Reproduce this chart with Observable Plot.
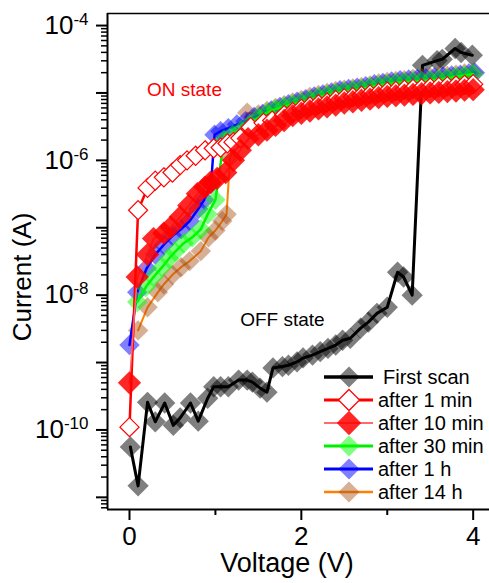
<!DOCTYPE html>
<html><head><meta charset="utf-8">
<script src="https://cdn.jsdelivr.net/npm/d3@7"></script>
<script src="https://cdn.jsdelivr.net/npm/@observablehq/plot@0.6"></script>
<style>body{margin:0;background:#fff;} svg{display:block;}</style>
</head><body><div id="chart"></div>
<script>
// [Voltage (V), Current (A)]
const firstScan = [[0.01,5.6e-11],[0.10,1.48e-11],[0.21,2.57e-10],[0.30,1.32e-10],[0.41,2.51e-10],[0.51,1.17e-10],[0.59,1.51e-10],[0.71,2.51e-10],[0.80,1.35e-10],[0.91,2.95e-10],[0.98,4.37e-10],[1.06,4.37e-10],[1.15,4.37e-10],[1.27,5.5e-10],[1.37,5.5e-10],[1.43,5.13e-10],[1.52,4.17e-10],[1.60,3.63e-10],[1.67,8.32e-10],[1.78,8.71e-10],[1.85,9.12e-10],[1.95,1.02e-9],[2.02,1.17e-9],[2.13,1.29e-9],[2.22,1.45e-9],[2.31,1.62e-9],[2.40,1.82e-9],[2.48,2.14e-9],[2.57,2.29e-9],[2.69,3.24e-9],[2.78,3.98e-9],[2.88,5.37e-9],[3.00,6.61e-9],[3.12,2.19e-8],[3.19,1.86e-8],[3.29,1.0e-8],[3.41,2.57e-5],[3.58,3.02e-5],[3.64,3.16e-5],[3.79,4.57e-5],[3.86,3.98e-5],[3.99,3.63e-5]];
const after1min = [[0.00,1.1e-10],[0.10,1.82e-7],[0.21,3.9e-7],[0.30,5.0e-7],[0.40,5.6e-7],[0.50,6.6e-7],[0.59,8.5e-7],[0.67,1.0e-6],[0.77,1.17e-6],[0.88,1.41e-6],[0.98,1.51e-6],[1.06,1.55e-6],[1.14,1.78e-6],[1.21,1.86e-6],[1.29,2.14e-6],[1.41,3.1e-6],[1.56,3.6e-6],[1.66,3.9e-6],[1.8,4.7e-6],[1.9,5.2e-6],[2.0,5.8e-6],[2.1,6.3e-6],[2.2,6.8e-6],[2.3,7.2e-6],[2.4,7.8e-6],[2.5,8.3e-6],[2.6,8.7e-6],[2.7,9.1e-6],[2.8,9.5e-6],[2.9,1.0e-5],[3.0,1.05e-5],[3.1,1.07e-5],[3.2,1.12e-5],[3.3,1.15e-5],[3.4,1.17e-5],[3.5,1.2e-5],[3.6,1.23e-5],[3.7,1.26e-5],[3.8,1.29e-5],[3.9,1.32e-5],[4.0,1.35e-5]];
const after10min = [[0.00,5.0e-10],[0.09,1.86e-8],[0.21,4.0e-8],[0.28,6.9e-8],[0.40,8.3e-8],[0.48,1.02e-7],[0.59,1.45e-7],[0.69,2.14e-7],[0.79,3.2e-7],[0.88,4.0e-7],[0.94,4.7e-7],[1.02,5.4e-7],[1.12,6.6e-7],[1.21,1.0e-6],[1.29,1.41e-6],[1.38,2.1e-6],[1.5,2.4e-6],[1.6,2.8e-6],[1.7,3.3e-6],[1.8,3.9e-6],[1.9,4.6e-6],[2.0,5.0e-6],[2.1,5.4e-6],[2.2,5.8e-6],[2.3,6.2e-6],[2.4,6.6e-6],[2.5,7.1e-6],[2.6,7.4e-6],[2.7,7.8e-6],[2.8,8.1e-6],[2.9,8.5e-6],[3.0,8.9e-6],[3.1,9.1e-6],[3.2,9.3e-6],[3.3,9.5e-6],[3.4,9.8e-6],[3.5,1.0e-5],[3.6,1.02e-5],[3.7,1.05e-5],[3.8,1.07e-5],[3.9,1.1e-5],[4.0,1.12e-5]];
const after30min = [[0.09,7.9e-9],[0.19,1.32e-8],[0.28,1.86e-8],[0.38,2.6e-8],[0.46,3.5e-8],[0.53,4.4e-8],[0.63,5.9e-8],[0.73,7.2e-8],[0.83,9.5e-8],[0.91,1.58e-7],[1.00,2.6e-7],[1.10,2.0e-6],[1.20,2.4e-6],[1.30,2.8e-6],[1.40,3.4e-6],[1.50,4.3e-6],[1.60,5.1e-6],[1.70,5.8e-6],[1.80,6.3e-6],[1.90,6.8e-6],[2.00,7.2e-6],[2.10,7.9e-6],[2.20,8.7e-6],[2.30,9.3e-6],[2.40,1.0e-5],[2.50,1.05e-5],[2.60,1.1e-5],[2.70,1.15e-5],[2.80,1.23e-5],[2.90,1.29e-5],[3.00,1.35e-5],[3.10,1.41e-5],[3.20,1.45e-5],[3.30,1.48e-5],[3.40,1.51e-5],[3.50,1.55e-5],[3.60,1.58e-5],[3.70,1.66e-5],[3.80,1.74e-5],[3.90,1.82e-5],[4.00,1.91e-5]];
const after1h = [[0.00,1.82e-9],[0.09,1.1e-8],[0.20,2.5e-8],[0.30,4.0e-8],[0.40,5.6e-8],[0.50,7.6e-8],[0.60,9.5e-8],[0.70,1.26e-7],[0.80,1.9e-7],[0.87,2.6e-7],[0.95,4.5e-7],[0.99,2.4e-6],[1.06,2.7e-6],[1.15,3.0e-6],[1.25,3.4e-6],[1.35,3.8e-6],[1.45,4.4e-6],[1.55,4.9e-6],[1.65,5.5e-6],[1.75,6.2e-6],[1.85,6.8e-6],[1.95,7.4e-6],[2.05,8.1e-6],[2.15,8.9e-6],[2.25,9.5e-6],[2.35,1.02e-5],[2.45,1.1e-5],[2.55,1.15e-5],[2.65,1.2e-5],[2.75,1.26e-5],[2.85,1.35e-5],[2.95,1.41e-5],[3.05,1.48e-5],[3.15,1.55e-5],[3.25,1.58e-5],[3.35,1.62e-5],[3.45,1.66e-5],[3.55,1.7e-5],[3.65,1.74e-5],[3.75,1.82e-5],[3.85,1.86e-5],[3.95,1.95e-5],[4.02,2.0e-5]];
const after14h = [[0.10,3.0e-9],[0.21,6.6e-9],[0.33,1.1e-8],[0.40,1.45e-8],[0.50,2.0e-8],[0.60,2.6e-8],[0.70,3.2e-8],[0.83,4.5e-8],[0.92,7.2e-8],[1.00,9.1e-8],[1.08,1.26e-7],[1.13,1.58e-7],[1.17,1.1e-6],[1.27,2.2e-6],[1.37,5.1e-6],[1.50,4.8e-6],[1.60,5.4e-6],[1.70,6.0e-6],[1.80,6.6e-6],[1.90,7.2e-6],[2.00,7.9e-6],[2.10,8.7e-6],[2.20,9.3e-6],[2.30,1.0e-5],[2.40,1.07e-5],[2.50,1.12e-5],[2.60,1.17e-5],[2.70,1.23e-5],[2.80,1.29e-5],[2.90,1.38e-5],[3.00,1.45e-5],[3.10,1.51e-5],[3.20,1.55e-5],[3.30,1.62e-5],[3.40,1.66e-5],[3.50,1.7e-5],[3.60,1.74e-5],[3.70,1.78e-5],[3.80,1.86e-5],[3.90,1.95e-5],[4.00,2.0e-5]];

const seriesNames = ["First scan","after 1 min","after 10 min","after 30 min","after 1 h","after 14 h"];
const xDomain = [-0.256, 4.19];
const yDomain = [6.6e-12, 1.51e-4];
const xMajorTicks = [0, 2, 4];
const xMinorTicks = [1, 3];
const yMajorTicks = [1e-11,1e-10,1e-9,1e-8,1e-7,1e-6,1e-5,1e-4];
const yLabeledTicks = [1e-10,1e-8,1e-6,1e-4];
const yMinorTicks = [7e-12,8e-12,9e-12];
[1e-11,1e-10,1e-9,1e-8,1e-7,1e-6,1e-5].forEach(b => [2,3,4,5,6,7,8,9].forEach(k => yMinorTicks.push(+(k*b).toPrecision(3))));
const annotations = [
  {label:"ON state", v:0.64, i:1.12e-5, color:"#ff0000"},
  {label:"OFF state", v:1.78, i:4.3e-9, color:"#000000"}
];
const xTitle = "Voltage (V)";
const yTitle = "Current (A)";

// styles (kept apart from data)
const styles = {
  "First scan":   {data:firstScan,  line:"#000000", lw:3,   fill:"#000000", fo:0.5,  r:9.6,  stroke:"none", sw:0},
  "after 1 min":  {data:after1min,  line:"#ff0000", lw:2.5, fill:"#ffffff", fo:1,    r:8.6,  stroke:"#ff0000", sw:1.2},
  "after 10 min": {data:after10min, line:"#ff6a6a", lw:1.5, fill:"#ff0000", fo:0.85, r:10.5, stroke:"none", sw:0},
  "after 30 min": {data:after30min, line:"#00ee00", lw:2.5, fill:"#00ff00", fo:0.5,  r:9.2,  stroke:"none", sw:0},
  "after 1 h":    {data:after1h,    line:"#0000ff", lw:2.5, fill:"#0000ff", fo:0.5,  r:9.2,  stroke:"none", sw:0},
  "after 14 h":   {data:after14h,   line:"#ff8000", lw:2,   fill:"#a64d14", fo:0.45, r:9.2,  stroke:"none", sw:0}
};
const drawOrder = ["First scan","after 14 h","after 1 h","after 30 min","after 1 min","after 10 min"];

const font = "'Liberation Sans', Arial, sans-serif";
const marks = [];
for (const name of drawOrder) {
  const s = styles[name];
  marks.push(Plot.line(s.data, {x: d => d[0], y: d => d[1], stroke: s.line, strokeWidth: s.lw}));
  marks.push(Plot.dot(s.data, {x: d => d[0], y: d => d[1], symbol: "diamond2", r: s.r, fill: s.fill, fillOpacity: s.fo, stroke: s.stroke, strokeWidth: s.sw}));
}
const labeledSet = new Set(yLabeledTicks);
marks.push(
  Plot.text(annotations, {x: "v", y: "i", text: "label", fill: d => d.color, fontSize: 19, fontFamily: font}),
  Plot.ruleX([xDomain[0]], {stroke: "#000", strokeWidth: 2}),
  Plot.ruleY([yDomain[0]], {stroke: "#000", strokeWidth: 2}),
  Plot.ruleY([yDomain[1]], {stroke: "#000", strokeWidth: 1.5}),
  Plot.axisY({ticks: yMajorTicks, tickSize: 11, tickPadding: 8, strokeWidth: 2, fontSize: 26, fontFamily: font, label: null,
    tickFormat: d => labeledSet.has(d) ? "10^" + Math.round(Math.log10(d)) : ""}),
  Plot.axisY({ticks: yMinorTicks, tickSize: 6, strokeWidth: 1.5, tickFormat: () => "", label: null}),
  Plot.axisX({ticks: xMajorTicks, tickSize: 11, tickPadding: 6, strokeWidth: 2, fontSize: 26, fontFamily: font, label: null, tickFormat: d => String(d)}),
  Plot.axisX({ticks: xMinorTicks, tickSize: 6, strokeWidth: 2, tickFormat: () => "", label: null})
);

const chart = Plot.plot({
  width: 489, height: 583,
  marginLeft: 107, marginRight: 0, marginTop: 13, marginBottom: 74,
  style: {fontFamily: font, color: "#000", background: "#fff", overflow: "visible"},
  x: {domain: xDomain, axis: null},
  y: {type: "log", domain: yDomain, axis: null},
  marks
});
document.getElementById("chart").appendChild(chart);

const svg = d3.select(chart);
// superscript exponents on y tick labels
svg.selectAll('g[aria-label="y-axis tick label"] text').each(function() {
  const m = this.textContent.match(/^10\^(-?\d+)$/);
  if (m) {
    const t = d3.select(this);
    t.text("10");
    t.append("tspan").attr("dy", -9).attr("font-size", 17).text(m[1]);
  }
});

// axis titles
svg.append("text").attr("x", 287).attr("y", 572).attr("text-anchor", "middle")
  .attr("font-family", font).attr("font-size", 27).attr("fill", "#000").text(xTitle);
svg.append("text").attr("transform", "translate(31,277) rotate(-90)").attr("text-anchor", "middle")
  .attr("font-family", font).attr("font-size", 26).attr("fill", "#000").text(yTitle);

// legend
const legendX = 324, legendTop = 377, rowGap = 23;
const sym = d3.symbol().type(d3.symbolDiamond2);
const lg = svg.append("g").attr("font-family", font).attr("font-size", 20).attr("text-anchor", "start");
seriesNames.forEach((name, k) => {
  const s = styles[name];
  const y = legendTop + k * rowGap;
  lg.append("line").attr("x1", legendX).attr("x2", legendX + 49).attr("y1", y).attr("y2", y)
    .attr("stroke", s.line).attr("stroke-width", name === "First scan" ? 3.5 : s.lw + 0.5);
  const rr = name === "after 10 min" ? 11 : 9.5;
  lg.append("path").attr("d", sym.size(rr * rr * Math.PI)())
    .attr("transform", `translate(${legendX + 25},${y})`)
    .attr("fill", s.fill).attr("fill-opacity", s.fo)
    .attr("stroke", s.stroke).attr("stroke-width", s.sw);
  lg.append("text").attr("x", name === "First scan" ? 383 : 378).attr("y", y).attr("dy", "0.35em")
    .attr("fill", "#000").text(name);
});
</script>
</body></html>
